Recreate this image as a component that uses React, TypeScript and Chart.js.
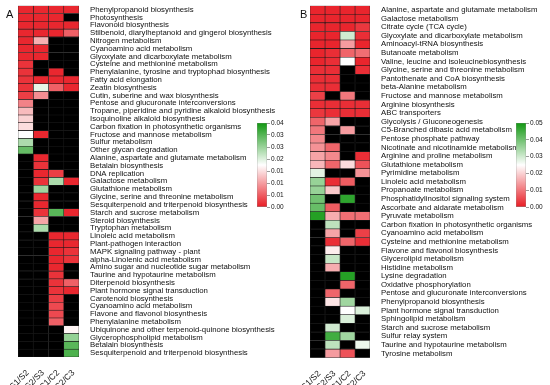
import React, { useEffect, useRef } from 'react';
import { Chart, registerables } from 'chart.js';
Chart.register(...registerables);

const FONT = "'Liberation Sans', Arial, sans-serif";

const columns = ['S1/S2', 'S2/S3', 'C1/C2', 'C2/C3'];

// ---------- Panel A ----------
const rowsA = [
  'Phenylpropanoid biosynthesis', 'Photosynthesis', 'Flavonoid biosynthesis',
  'Stilbenoid, diarylheptanoid and gingerol biosynthesis', 'Nitrogen metabolism',
  'Cyanoamino acid metabolism', 'Glyoxylate and dicarboxylate metabolism',
  'Cysteine and methionine metabolism', 'Phenylalanine, tyrosine and tryptophad biosynthesis',
  'Fatty acid elongation', 'Zeatin biosynthesis', 'Cutin, suberine and wax biosynthesis',
  'Pentose and glucuronate interconversions', 'Tropane, piperidine and pyridine alkaloid biosynthesis',
  'Isoquinoline alkaloid biosynthesis', 'Carbon fixation in photosynthetic organisms',
  'Fructose and mannose metabolism', 'Sulfur metabolism', 'Other glycan degradation',
  'Alanine, aspartate and glutamate metabolism', 'Betalain biosynthesis', 'DNA replication',
  'Galactose metabolism', 'Glutathione metabolism', 'Glycine, serine and threonine metabolism',
  'Sesquiterpenoid and triterpenoid biosynthesis', 'Starch and sucrose metabolism',
  'Steroid biosynthesis', 'Tryptophan metabolism', 'Linoleic acid metabolism',
  'Plant-pathogen interaction', 'MAPK signaling pathway - plant', 'alpha-Linolenic acid metabolism',
  'Amino sugar and nucleotide sugar metabolism', 'Taurine and hypotaurine metabolism',
  'Diterpenoid biosynthesis', 'Plant hormone signal transduction', 'Carotenoid biosynthesis',
  'Cyanoamino acid metabolism', 'Flavone and flavonol biosynthesis', 'Phenylalanine metabolism',
  'Ubiquinone and other terpenoid-quinone biosynthesis', 'Glycerophospholipid metabolism',
  'Betalain biosynthesis', 'Sesquiterpenoid and triterpenoid biosynthesis',
];
const _ = null;
const aS1S2 = [0.001, 0.001, 0.001, 0.001, 0.001, 0.001, 0.001, 0.002, 0.002, 0.002, 0.002, 0.003, 0.009, 0.014, 0.016, 0.017, 0.02, 0.027, 0.033,
  _, _, _, _, _, _, _, _, _, _, _, _, _, _, _, _, _, _, _, _, _, _, _, _, _, _];
const aS2S3 = [0.001, 0.001, 0.001, 0.001, 0.013, 0.001, 0.001, _, _, 0.001, 0.022, 0.01, _, _, _, _, 0.001, _, _,
  0.001, 0.002, 0.001, 0.002, 0.028, 0.001, 0.001, 0.002, 0.012, 0.027, _, _, _, _, _, _, _, _, _, _, _, _, _, _, _, _];
const aC1C2 = [0.001, 0.001, 0.001, 0.001, _, _, _, _, 0.001, 0.001, 0.006, _, _, _, _, _, _, _, _, _, _,
  0.003, 0.027, _, _, _, 0.034, _, _, 0.001, 0.001, 0.001, 0.001, 0.001, 0.002, 0.002, 0.002, 0.003, 0.004, 0.004, 0.006, _, _, _, _];
const aC2C3 = [0.001, _, 0.001, 0.006, _, _, _, _, _, 0.001, 0.001, _, _, _, _, _, _, _, _, _, _, _,
  0.001, _, _, _, 0.001, _, _, 0.001, 0.001, 0.002, 0.002, _, _, 0.006, 0.001, _, _, _, _, 0.019, 0.029, 0.034, 0.035];
const maxA = 0.04;
const legendATicks = ['0.00', '0.01', '0.01', '0.01', '0.02', '0.03', '0.03', '0.04'];

// ---------- Panel B ----------
const rowsB = [
  'Alanine, aspartate and glutamate metabolism', 'Galactose metabolism', 'Citrate cycle (TCA cycle)',
  'Glyoxylate and dicarboxylate metabolism', 'Aminoacyl-tRNA biosynthesis', 'Butanoate metabolism',
  'Valine, leucine and isoleucinebiosynthesis', 'Glycine, serine and threonine metabolism',
  'Pantothenate and CoA biosynthesis', 'beta-Alanine metabolism', 'Fructose and mannose metabolism',
  'Arginine biosynthesis', 'ABC transporters', 'Glycolysis / Gluconeogenesis',
  'C5-Branched dibasic acid metabolism', 'Pentose phosphate pathway',
  'Nicotinate and nicotinamide metabolism', 'Arginine and proline metabolism',
  'Glutathione metabolism', 'Pyrimidine metabolism', 'Linoleic acid metabolism',
  'Propanoate metabolism', 'Phosphatidylinositol signaling system', 'Ascorbate and aldarate metabolism',
  'Pyruvate metabolism', 'Carbon fixation in photosynthetic organisms', 'Cyanoamino acid metabolism',
  'Cysteine and methionine metabolism', 'Flavone and flavonol biosynthesis', 'Glycerolipid metabolism',
  'Histidine metabolism', 'Lysine degradation', 'Oxidative phosphorylation',
  'Pentose and glucuronate interconversions', 'Phenylpropanoid biosynthesis',
  'Plant hormone signal transduction', 'Sphingolipid metabolism', 'Starch and sucrose metabolism',
  'Sulfur relay system', 'Taurine and hypotaurine metabolism', 'Tyrosine metabolism',
];
const bS1S2 = [0.001, 0.001, 0.001, 0.001, 0.001, 0.001, 0.001, 0.002, 0.002, 0.002, 0.004, 0.002, 0.003, 0.008, 0.01, 0.012, 0.013, 0.015, 0.017, 0.028,
  0.036, 0.036, 0.04, 0.041, 0.048, _, _, _, _, _, _, _, _, _, _, _, _, _, _, _, _];
const bS2S3 = [0.001, 0.001, 0.001, 0.001, 0.001, 0.002, 0.002, 0.002, 0.002, 0.002, _, 0.002, 0.002, 0.015, _, _, 0.008, 0.012, 0.008, _,
  0.002, 0.019, _, 0.007, 0.016, 0.032, 0.015, 0.002, 0.023, 0.031, 0.016, _, _, 0.008, 0.022, _, _, 0.03, 0.045, 0.032, 0.014];
const bC1C2 = [0.001, 0.001, 0.001, 0.03, 0.014, 0.008, 0.025, _, _, _, 0.01, 0.002, 0.002, _, 0.014, _, _, _, 0.021, _,
  0.007, _, 0.047, _, 0.009, _, _, 0.008, _, _, _, 0.048, 0.008, _, 0.035, 0.025, 0.029, _, 0.035, _, 0.006];
const bC2C3 = [0.001, 0.001, 0.003, 0.002, 0.001, 0.009, 0.001, 0.002, _, _, _, 0.002, 0.002, _, _, _, _, 0.002, 0.006, 0.013,
  _, _, _, _, 0.009, _, 0.004, 0.002, _, _, _, _, _, _, _, 0.029, _, _, _, 0.027, _];
const maxB = 0.05;
const legendBTicks = ['0.00', '0.01', '0.02', '0.03', '0.04', '0.05'];

// ---------- colours ----------
const RED = [232, 28, 36];
const WHITE = [255, 255, 255];
const GREEN = [18, 152, 18];
const rgb = (c: number[]) => `rgb(${c.map((x) => Math.round(x)).join(',')})`;
const lerp = (a: number[], b: number[], t: number) => a.map((x, i) => x + (b[i] - x) * t);
function colorFor(v: number | null, max: number): string {
  if (v === null || v === undefined) return '#000000';
  const t = Math.max(0, Math.min(1, v / max));
  return t < 0.5 ? rgb(lerp(RED, WHITE, t / 0.5)) : rgb(lerp(WHITE, GREEN, (t - 0.5) / 0.5));
}

function heatConfig(rows: string[], cols: (number | null)[][], max: number, W: number, H: number,
  left: number, right: number, top: number, bottom: number): any {
  return {
    type: 'bar',
    data: {
      labels: rows,
      datasets: columns.map((name, ci) => ({
        label: name,
        data: cols[ci].map(() => 1),
        backgroundColor: cols[ci].map((v) => colorFor(v, max)),
        borderColor: '#1a1a1a',
        borderWidth: 0.6,
        borderSkipped: false,
        barPercentage: 1,
        categoryPercentage: 1,
      })),
    },
    options: {
      indexAxis: 'y',
      animation: false,
      responsive: false,
      maintainAspectRatio: false,
      events: [],
      layout: { padding: { left, top, right: 0, bottom: 0 } },
      plugins: { legend: { display: false }, tooltip: { enabled: false }, title: { display: false } },
      scales: {
        x: {
          type: 'linear', stacked: true, min: 0, max: columns.length, position: 'bottom',
          grid: { display: false }, border: { display: false },
          afterBuildTicks: (s: any) => { s.ticks = columns.map((_c, i) => ({ value: i + 0.5 })); },
          ticks: {
            autoSkip: false, maxRotation: 45, minRotation: 45, padding: 3, labelOffset: 2,
            color: '#111', font: { family: FONT, size: 8.5 },
            callback: (v: number) => columns[Math.floor(v)],
          },
          afterFit: (s: any) => { s.height = H - bottom; s.paddingLeft = 0; s.paddingRight = 0; s.paddingTop = 0; s.paddingBottom = 0; },
        },
        y: {
          type: 'category', stacked: true, position: 'right', offset: true,
          grid: { display: false }, border: { display: false },
          ticks: { autoSkip: false, padding: 3, color: '#111', font: { family: FONT, size: 7.8, lineHeight: 1 } },
          afterFit: (s: any) => { s.width = W - right; s.paddingTop = 0; s.paddingBottom = 0; s.paddingLeft = 0; s.paddingRight = 0; },
        },
      },
    },
  };
}

function barConfig(max: number, labels: string[], W: number): any {
  return {
    type: 'bar',
    data: {
      labels: [''],
      datasets: [{
        data: [[0, max]],
        backgroundColor: (ctx: any) => {
          const area = ctx.chart.chartArea;
          if (!area) return '#fff';
          const g = ctx.chart.ctx.createLinearGradient(0, area.bottom, 0, area.top);
          g.addColorStop(0, rgb(RED));
          g.addColorStop(0.5, rgb(WHITE));
          g.addColorStop(1, rgb(GREEN));
          return g;
        },
        borderColor: '#8a8a8a',
        borderWidth: 0.6,
        borderSkipped: false,
        barPercentage: 1,
        categoryPercentage: 1,
      }],
    },
    options: {
      animation: false,
      responsive: false,
      maintainAspectRatio: false,
      events: [],
      layout: { padding: { left: 7, top: 13, bottom: 13, right: 0 } },
      plugins: { legend: { display: false }, tooltip: { enabled: false } },
      scales: {
        x: { display: false },
        y: {
          position: 'right', min: 0, max,
          grid: { display: true, drawOnChartArea: false, drawTicks: true, tickLength: 3, color: '#555', lineWidth: 0.6 },
          border: { display: false },
          afterBuildTicks: (s: any) => { s.ticks = labels.map((_l, i) => ({ value: (i * max) / (labels.length - 1) })); },
          ticks: { padding: 1, color: '#111', font: { family: FONT, size: 6.5 }, callback: (_v: number, i: number) => labels[i] },
          afterFit: (s: any) => { s.width = W - 17; s.paddingTop = 0; s.paddingBottom = 0; },
        },
      },
    },
  };
}

export default function App() {
  const refA = useRef<HTMLCanvasElement>(null);
  const refB = useRef<HTMLCanvasElement>(null);
  const refLA = useRef<HTMLCanvasElement>(null);
  const refLB = useRef<HTMLCanvasElement>(null);

  useEffect(() => {
    const charts: Chart[] = [];
    charts.push(new Chart(refA.current!, heatConfig(rowsA, [aS1S2, aS2S3, aC1C2, aC2C3], maxA, 300, 385, 18, 79, 5.7, 357)));
    charts.push(new Chart(refB.current!, heatConfig(rowsB, [bS1S2, bS2S3, bC1C2, bC2C3], maxB, 258, 385, 18, 78, 5.7, 357.7)));
    charts.push(new Chart(refLA.current!, barConfig(maxA, legendATicks, 45)));
    charts.push(new Chart(refLB.current!, barConfig(maxB, legendBTicks, 41)));
    return () => charts.forEach((c) => c.destroy());
  }, []);

  const abs = (l: number, t: number, w: number, h: number): React.CSSProperties => ({
    position: 'absolute', left: l, top: t, width: w, height: h,
  });
  const letter: React.CSSProperties = { position: 'absolute', fontFamily: FONT, fontSize: 11, lineHeight: '11px', color: '#111' };

  return (
    <div style={{ position: 'absolute', left: 0, top: 0, width: 550, height: 385, background: '#fff', overflow: 'hidden' }}>
      <canvas ref={refA} width={300} height={385} style={abs(0, 0, 300, 385)} />
      <canvas ref={refB} width={258} height={385} style={abs(292, 0, 258, 385)} />
      <canvas ref={refLA} width={45} height={110} style={abs(250, 110, 45, 110)} />
      <canvas ref={refLB} width={41} height={110} style={abs(509, 110, 41, 110)} />
      <div style={{ ...letter, left: 6, top: 8.6 }}>A</div>
      <div style={{ ...letter, left: 300, top: 8.6 }}>B</div>
    </div>
  );
}
